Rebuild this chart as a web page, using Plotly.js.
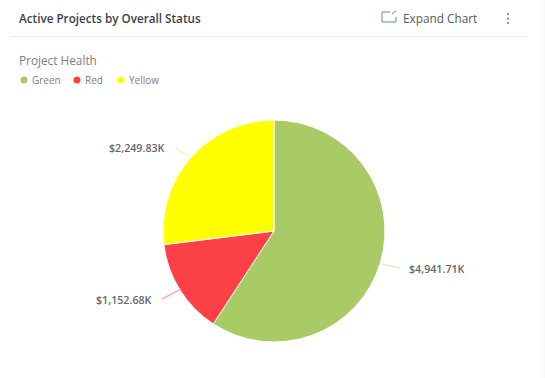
<!DOCTYPE html>
<html><head><meta charset="utf-8">
<script src="https://cdn.plot.ly/plotly-3.0.1.min.js"></script>
<style>html,body{margin:0;padding:0;background:#fff;overflow:hidden}#c{width:545px;height:378px}</style>
</head><body><div id="c"></div>
<script>
var categories = ["Green", "Red", "Yellow"];
var values = [4941.71, 1152.68, 2249.83];
var valueLabels = ["$4,941.71K", "$1,152.68K", "$2,249.83K"];
var colors = ["#a9cb66", "#fb4146", "#ffff00"];
var lineColors = ["#d3e3b3", "#f59a9c", "#f5f59a"];
var W = 545, H = 378;
var font = "'Open Sans', 'Noto Sans', sans-serif";
function px(x){return x/W;} function py(y){return 1-y/H;}
function text(x,y,t,size,color,anchor,weight){
  return {xref:"paper",yref:"paper",x:px(x),y:py(y),text:t,showarrow:false,xanchor:anchor||"left",yanchor:"middle",
    font:{family:font,size:size,color:color,weight:weight||400}};
}
function line(x0,y0,x1,y1,c,w){
  return {type:"line",xref:"paper",yref:"paper",x0:px(x0),y0:py(y0),x1:px(x1),y1:py(y1),line:{color:c,width:w||1}};
}
function dot(x,y,r,c){
  return {type:"circle",xref:"paper",yref:"paper",x0:px(x-r),x1:px(x+r),y0:py(y-r),y1:py(y+r),fillcolor:c,line:{width:0}};
}
var legendMarkers = [24, 77, 121];
var legendTexts = [30, 83, 127];
var labelPos = [[407,269,"left"],[154,300,"right"],[167,148,"right"]];
var connectors = [[382,264,400,268],[162,299,181,289],[175,148,188,156]];
var annotations = [
  text(17,18,"Active Projects by Overall Status",11.7,"#3b3f46","left",600),
  text(401,18,"Expand Chart",11.8,"#555a60","left"),
  text(17,60,"Project Health",11.8,"#7c7e82","left")
];
var shapes = [
  line(10,36.5,528,36.5,"#ececec",1),
  {type:"rect",xref:"paper",yref:"paper",x0:px(540),x1:1,y0:0,y1:1,fillcolor:"#fafafb",line:{width:0},layer:"below"},
  line(382,12,382,22,"#5f86bd",1), line(382,22,396,22,"#5f86bd",1), line(396,22,396,17,"#5f86bd",1),
  line(382,12,390,12,"#5f86bd",1), line(392,14,396,11,"#5f86bd",1),
  dot(508,14,0.9,"#666"), dot(508,18.5,0.9,"#666"), dot(508,23,0.9,"#666")
];
categories.forEach(function(c,i){
  shapes.push(dot(legendMarkers[i],80,3.5,colors[i]));
  annotations.push(text(legendTexts[i],80,c,10,"#7c7e82","left"));
  annotations.push(text(labelPos[i][0],labelPos[i][1],valueLabels[i],10.7,"#63666a",labelPos[i][2],600));
  var k=connectors[i]; shapes.push(line(k[0],k[1],k[2],k[3],lineColors[i],1.2));
});
Plotly.newPlot("c",[{
  type:"pie",labels:categories,values:values,sort:false,direction:"clockwise",rotation:0,
  marker:{colors:colors,line:{color:"#ffffff",width:1}},textinfo:"none",hoverinfo:"label+value",
  domain:{x:[163/W,385/W],y:[1-342/H,1-120/H]}
}],{
  width:W,height:H,margin:{l:0,r:0,t:0,b:0},paper_bgcolor:"#ffffff",plot_bgcolor:"#ffffff",
  showlegend:false,annotations:annotations,shapes:shapes,font:{family:font}
},{displayModeBar:false,responsive:false});
</script></body></html>
